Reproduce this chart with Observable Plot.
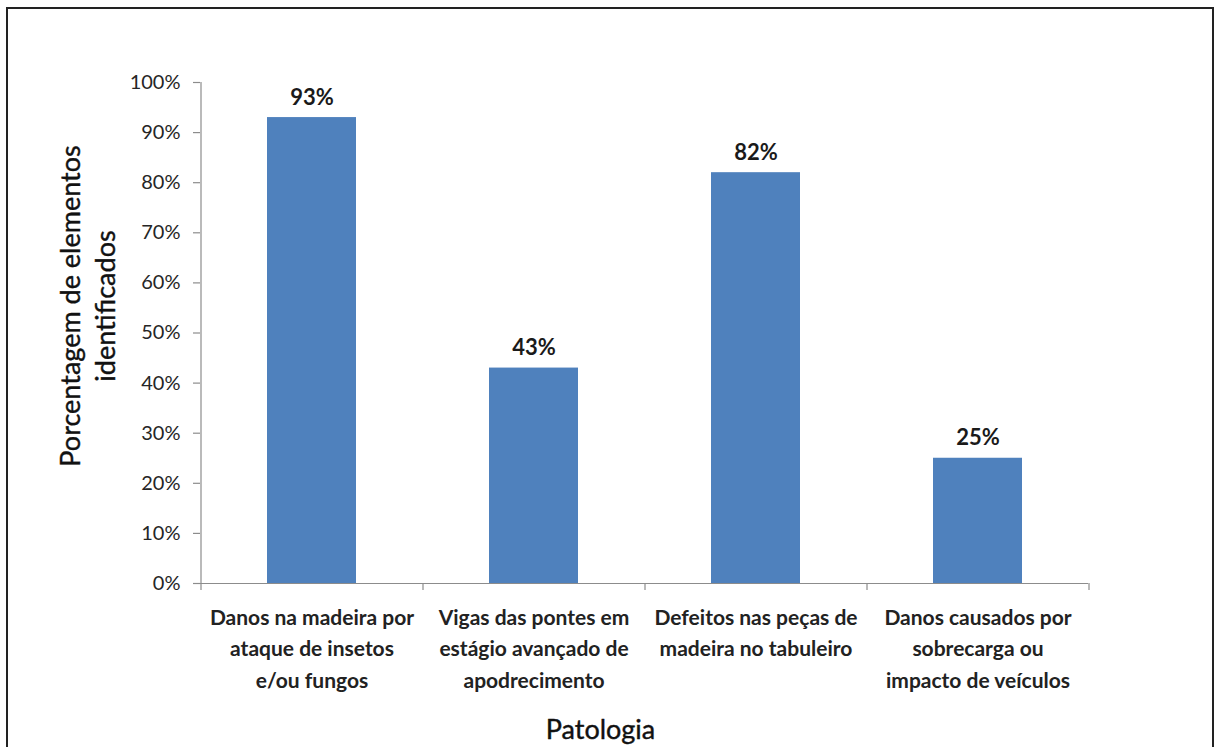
<!DOCTYPE html>
<html>
<head>
<meta charset="utf-8">
<script src="https://cdn.jsdelivr.net/npm/d3@7"></script>
<script src="https://cdn.jsdelivr.net/npm/@observablehq/plot@0.6"></script>
<style>
  html, body { margin: 0; padding: 0; background: #fff; overflow: hidden; }
  #wrap { position: relative; width: 1218px; height: 747px; }
  #border { position: absolute; left: 6px; top: 7px; width: 1208px; height: 770px; border: 2px solid #222; box-sizing: border-box; pointer-events: none; }
  #chart { position: absolute; left: 0; top: 0; }
</style>
</head>
<body>
<div id="wrap"><div id="chart"></div><div id="border"></div></div>
<script>
const categories = [
  "Danos na madeira por\nataque de insetos\ne/ou fungos",
  "Vigas das pontes em\nestágio avançado de\napodrecimento",
  "Defeitos nas peças de\nmadeira no tabuleiro",
  "Danos causados por\nsobrecarga ou\nimpacto de veículos"
];
const values = [93, 43, 82, 25];
const yTicks = [0, 10, 20, 30, 40, 50, 60, 70, 80, 90, 100];
const yTitle = "Porcentagem de elementos\nidentificados";
const xTitle = "Patologia";

const data = categories.map((c, i) => ({cat: c, value: values[i]}));
const axisGray = "#8c8c8c";
const half = 111;

const chart = Plot.plot({
  width: 1218,
  height: 747,
  marginLeft: 200,
  marginRight: 130,
  marginTop: 82,
  marginBottom: 164,
  style: {fontFamily: "Lato, 'Open Sans', sans-serif", background: "white"},
  x: {domain: categories, padding: 0.6, paddingOuter: 0.3, axis: null},
  y: {domain: [0, 100], axis: null},
  marks: [
    Plot.barY(data, {x: "cat", y: "value", fill: "#4F81BD"}),
    Plot.ruleY([0], {stroke: axisGray, strokeWidth: 1.2}),
    Plot.ruleX([categories[0]], {x: d => d, dx: -half, y1: 0, y2: 100, stroke: axisGray, strokeWidth: 1.2}),
    Plot.ruleX(categories, {x: d => d, dx: -half, y1: 0, y2: 0, insetBottom: -7, stroke: axisGray, strokeWidth: 1.2}),
    Plot.ruleX([categories[categories.length - 1]], {x: d => d, dx: half, y1: 0, y2: 0, insetBottom: -7, stroke: axisGray, strokeWidth: 1.2}),
    Plot.axisY(yTicks, {text: null, tickSize: 7, stroke: axisGray, strokeWidth: 1.2, label: null}),
    Plot.axisY(yTicks, {tickSize: 0, tickPadding: 20, tickFormat: d => d + "%", fill: "#262626", fontSize: 20, label: null}),
    Plot.text(data, {x: "cat", y: "value", text: d => d.value + "%", lineAnchor: "bottom", dy: -13, fontWeight: "bold", fontSize: 22, fill: "#1a1a1a"}),
    Plot.text(categories, {x: d => d, y: 0, text: d => d, lineAnchor: "top", dy: 19, lineHeight: 1.5, fontWeight: "bold", fontSize: 21, fill: "#222"}),
    Plot.text([yTitle], {frameAnchor: "left", textAnchor: "middle", text: d => d, rotate: -90, dx: -114, dy: -27, lineHeight: 1.3, fontSize: 27, fill: "#111", stroke: "#111", strokeWidth: 0.4}),
    Plot.text([xTitle], {frameAnchor: "bottom", textAnchor: "middle", text: d => d, dx: -44, dy: 155, lineAnchor: "bottom", fontSize: 27, fill: "#111", stroke: "#111", strokeWidth: 0.4})
  ]
});
document.getElementById("chart").appendChild(chart);
</script>
</body>
</html>
